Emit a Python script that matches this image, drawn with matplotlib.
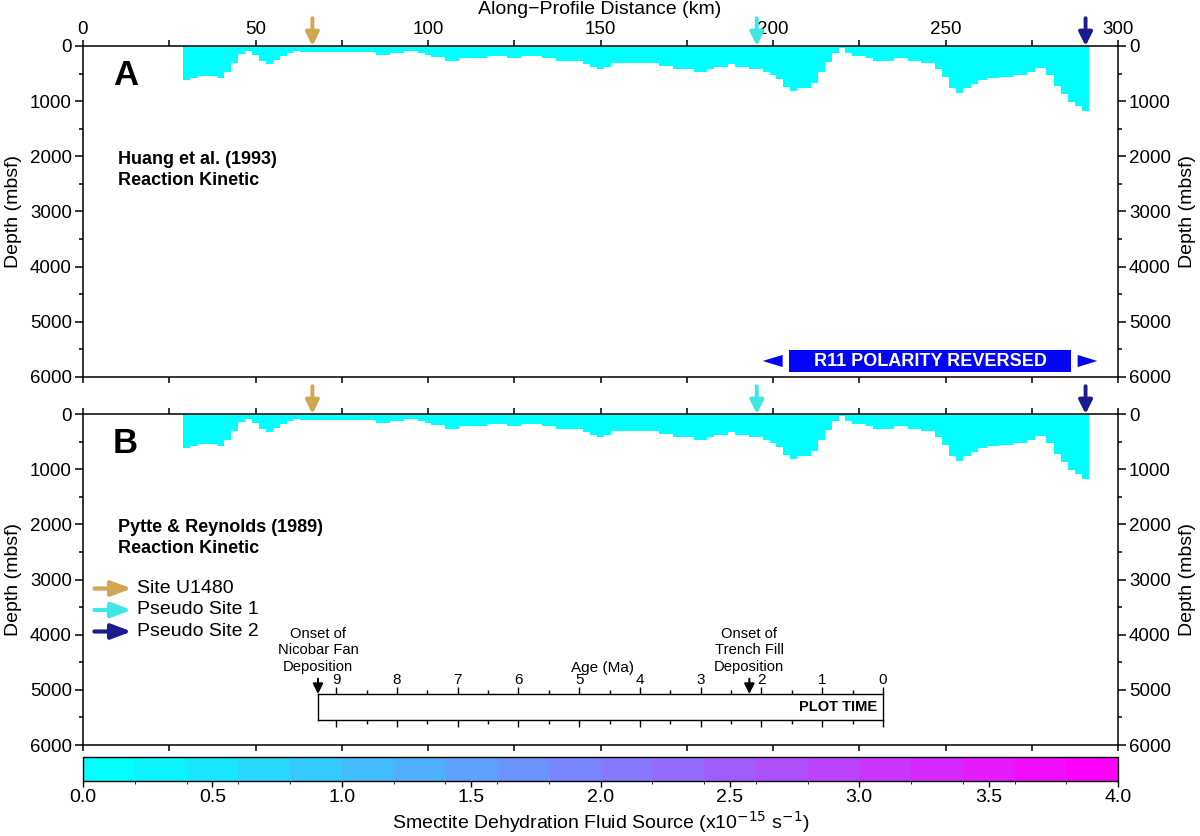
import numpy as np
import matplotlib as mpl
import matplotlib.pyplot as plt
from matplotlib.colors import ListedColormap, BoundaryNorm
from matplotlib.patches import Rectangle

plt.rcParams['font.family'] = ['Liberation Sans', 'DejaVu Sans']

# sediment column (km edges, depth of the base in mbsf)
edges_km = [29, 31, 33, 39, 41, 43, 45, 47, 49, 51, 53, 55, 57, 59, 61, 63, 85, 89, 93,
            97, 99, 101, 105, 109, 117, 123, 127, 133, 137, 145, 147, 149, 151, 153,
            167, 171, 177, 181, 183, 187, 189, 193, 197, 199, 201, 203, 205, 207, 211,
            213, 215, 217, 219, 221, 223, 227, 229, 235, 239, 243, 247, 249, 251, 253,
            255, 257.5, 259.5, 262, 265.5, 269.5, 273.5, 276, 279, 281.5, 283.5, 285.5,
            287.5, 289.5, 291.5]
depth_m = [618, 576, 545, 576, 479, 315, 145, 91, 164, 267, 327, 255, 182, 121, 91, 115,
           164, 121, 85,
           121, 164, 206, 267, 224, 176, 224, 176, 224, 267, 333, 376, 424, 376, 305,
           364, 424, 479, 424, 376, 333, 376, 424, 479, 527, 606, 739, 818, 770, 679,
           467, 285, 121, 42, 121, 182, 224, 267, 224, 267, 315, 424, 558, 770, 860,
           770, 697, 618, 588, 558, 527, 479, 406, 527, 727, 873, 1012, 1085, 1176]
fluid_source = 0.0  # x1e-15 s^-1 everywhere at plot time

sites = ['Site U1480', 'Pseudo Site 1', 'Pseudo Site 2']
site_km = [66.5, 195.3, 290.6]
site_colors = ['#d2a550', '#40e6e6', '#1c1c8c']

panel_letters = ['A', 'B']
kinetics = ['Huang et al. (1993)\nReaction Kinetic', 'Pytte & Reynolds (1989)\nReaction Kinetic']

age_ticks = list(range(10))
age_events = [9.3, 2.2]
event_labels = ['Onset of\nNicobar Fan\nDeposition', 'Onset of\nTrench Fill\nDeposition']
plot_time = 0.0

cb_bounds = np.linspace(0, 4, 21)
cb_ticks = np.arange(0, 4.01, 0.5)

cmap = ListedColormap(plt.get_cmap('cool')(np.linspace(0, 1, 20)))
norm = BoundaryNorm(cb_bounds, cmap.N)

W, H = 1200, 836
fig = plt.figure(figsize=(12, 8.36), dpi=100)

def frac(x0, y0, x1, y1):
    return [x0 / W, 1 - y1 / H, (x1 - x0) / W, (y1 - y0) / H]

axA = fig.add_axes(frac(83, 46, 1118, 377))
axB = fig.add_axes(frac(83, 414, 1118, 745))

for i, ax in enumerate([axA, axB]):
    ax.stairs(depth_m, edges_km, baseline=0, fill=True, color=cmap(norm(fluid_source)), lw=0)
    ax.set_xlim(0, 300)
    ax.set_ylim(6000, 0)
    ax.set_xticks(np.arange(0, 301, 50))
    ax.set_xticks(np.arange(25, 300, 50), minor=True)
    ax.set_yticks(np.arange(0, 6001, 1000))
    ax.set_yticks(np.arange(500, 6000, 1000), minor=True)
    ax.tick_params(which='both', direction='out', top=True, bottom=True, left=True, right=True,
                   labelleft=True, labelright=True, labelsize=13.5, width=1.1)
    ax.tick_params(axis='x', which='both', length=4, labeltop=(i == 0), labelbottom=False, pad=1.5)
    ax.tick_params(axis='y', which='major', length=5.5, pad=2.5)
    ax.tick_params(axis='y', which='minor', length=3)
    for s in ax.spines.values():
        s.set_linewidth(1.1)
    ax.text(0.029, 0.912, panel_letters[i], transform=ax.transAxes, fontsize=25,
            fontweight='bold', va='center', ha='left')
    ax.text(0.034, 0.625, kinetics[i], transform=ax.transAxes, fontsize=13,
            fontweight='bold', va='center', ha='left', linespacing=1.35)
    for km, c in zip(site_km, site_colors):
        ax.annotate('', xy=(km, 1.0), xycoords=('data', 'axes fraction'),
                    xytext=(0, 20), textcoords='offset points', annotation_clip=False,
                    arrowprops=dict(arrowstyle='-|>,head_width=0.4,head_length=0.8',
                                    color=c, lw=2.8, shrinkA=0, shrinkB=0))
    cy = (377 + 46) / 2 if i == 0 else (745 + 414) / 2
    fig.text(14 / W, 1 - cy / H, 'Depth (mbsf)', rotation=90, ha='center', va='center', fontsize=14)
    fig.text(1188 / W, 1 - cy / H, 'Depth (mbsf)', rotation=90, ha='center', va='center', fontsize=14)

fig.text(600 / W, 1 - 10 / H, 'Along\u2212Profile Distance (km)', ha='center', va='center', fontsize=14)

# R11 polarity banner
axA.add_patch(Rectangle((204.5, 5505), 82, 405, color='#0505f5', lw=0))
axA.text(245.5, 5712, 'R11 POLARITY REVERSED', color='white', fontweight='bold',
         fontsize=13, ha='center', va='center')
axA.fill([197, 202.8, 202.8], [5710, 5600, 5820], color='#0505f5', lw=0)
axA.fill([294, 288.3, 288.3], [5710, 5600, 5820], color='#0505f5', lw=0)

# legend
for j, (name, c) in enumerate(zip(sites, site_colors)):
    y = 1 - (588.5 + 21.5 * j - 414) / 331
    axB.annotate('', xy=(0.047, y), xycoords='axes fraction', xytext=(0.011, y),
                 textcoords='axes fraction',
                 arrowprops=dict(arrowstyle='-|>,head_width=0.45,head_length=1.2',
                                 color=c, lw=3, shrinkA=0, shrinkB=0))
    axB.text(0.052, y, name, transform=axB.transAxes, fontsize=14, va='center', ha='left')

# time bar
axT = fig.add_axes(frac(318, 694, 883, 720))
axT.set_xlim(age_events[0], 0)
axT.set_ylim(0, 1)
axT.set_yticks([])
axT.set_xticks(age_ticks)
axT.set_xticks(np.arange(0.5, 9.3, 1.0), minor=True)
axT.tick_params(which='both', direction='out', top=True, bottom=True, labeltop=True,
                labelbottom=False, labelsize=11, pad=0, width=1.0)
axT.tick_params(which='major', length=5)
axT.tick_params(which='minor', length=3)
for s in axT.spines.values():
    s.set_linewidth(1.0)
axT.axvspan(age_events[0], plot_time, color='white')
axT.text(0.99, 0.5, 'PLOT TIME', transform=axT.transAxes, ha='right', va='center',
         fontweight='bold', fontsize=10.5)
axT.text(0.503, 1.0, 'Age (Ma)', transform=axT.transAxes, ha='center', va='bottom',
         fontsize=11).set_position((0.503, 1.72))
for age, lab in zip(age_events, event_labels):
    axT.annotate('', xy=(age, 1.0), xycoords=('data', 'axes fraction'), xytext=(0, 11),
                 textcoords='offset points', annotation_clip=False,
                 arrowprops=dict(arrowstyle='-|>,head_width=0.3,head_length=0.6',
                                 color='black', lw=1.5, shrinkA=0, shrinkB=0))
    axT.annotate(lab, xy=(age, 1.0), xycoords=('data', 'axes fraction'), xytext=(0, 14.5),
                 textcoords='offset points', ha='center', va='bottom', fontsize=10.6,
                 linespacing=1.22, annotation_clip=False)

# colorbar
cax = fig.add_axes(frac(83, 757, 1118, 781))
cb = fig.colorbar(mpl.cm.ScalarMappable(norm=norm, cmap=cmap), cax=cax, orientation='horizontal',
                  ticks=cb_ticks, format='%.1f')
cb.outline.set_linewidth(1.0)
cax.tick_params(labelsize=14, length=4, direction='out', width=1.0, pad=2)
cb.set_label('Smectite Dehydration Fluid Source (x10$^{-15}$ s$^{-1}$)', fontsize=14, labelpad=2)

fig.savefig('out.png', dpi=100)
